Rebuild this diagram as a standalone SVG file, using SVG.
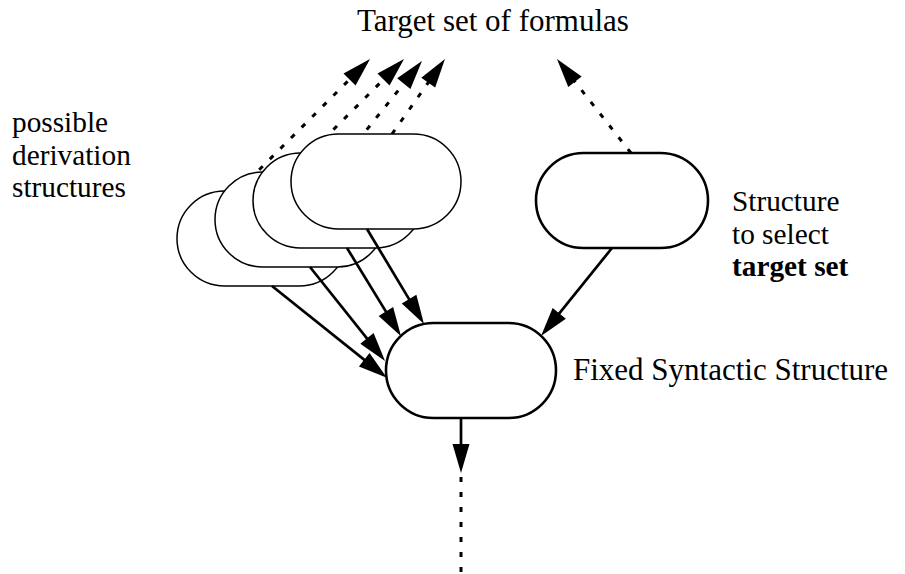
<svg xmlns="http://www.w3.org/2000/svg" width="905" height="574" viewBox="0 0 905 574">
<style>
text{font-family:"Liberation Serif","Times New Roman",serif;font-size:31px;fill:#000}
.m{font-size:29.3px}
.b{font-weight:bold}
.thin{fill:#fff;stroke:#000;stroke-width:1.5}
.thick{fill:#fff;stroke:#000;stroke-width:2.6}
.dot{fill:none;stroke:#000;stroke-width:3;stroke-dasharray:5 10}
.sol{fill:none;stroke:#000;stroke-width:2.7}
</style>
<defs>
<marker id="ah" markerUnits="userSpaceOnUse" markerWidth="30" markerHeight="20" refX="0" refY="0" orient="auto" overflow="visible">
<path d="M6,0 L-23,-8.5 L-23,8.5 Z" fill="#000"/>
</marker>
</defs>
<rect width="905" height="574" fill="#fff"/>
<g id="connectors-back">
<line class="dot" x1="238" y1="191" x2="365.8" y2="63.2" marker-end="url(#ah)"/>
<line class="dot" x1="291" y1="172" x2="399.8" y2="63.2" marker-end="url(#ah)"/>
<line class="dot" x1="348" y1="153" x2="418.2" y2="65.7" marker-end="url(#ah)"/>
<line class="dot" x1="392" y1="134" x2="441.5" y2="63.9" marker-end="url(#ah)"/>
<line class="dot" x1="631" y1="153" x2="560.7" y2="63.7" marker-end="url(#ah)"/>
</g>
<g id="deriv1"><rect class="thin" x="177" y="191" width="170" height="95" rx="47.5" ry="47.5"/></g>
<g id="deriv2"><rect class="thin" x="215" y="172" width="170" height="95" rx="47.5" ry="47.5"/></g>
<g id="deriv3"><rect class="thin" x="253" y="153" width="170" height="95" rx="47.5" ry="47.5"/></g>
<g id="deriv4"><rect class="thin" x="291" y="134" width="170" height="95" rx="47.5" ry="47.5"/></g>
<g id="select"><rect class="thick" x="536" y="153" width="172" height="95" rx="47.5" ry="47.5"/></g>
<g id="fixed"><rect class="thick" x="386" y="323" width="170" height="95" rx="47.5" ry="47.5"/></g>
<g id="connectors">
<line class="sol" x1="272" y1="286" x2="382.2" y2="374.1" marker-end="url(#ah)"/>
<line class="sol" x1="310" y1="267" x2="381.3" y2="356.3" marker-end="url(#ah)"/>
<line class="sol" x1="347" y1="248" x2="397.9" y2="331.1" marker-end="url(#ah)"/>
<line class="sol" x1="367" y1="229" x2="420.9" y2="318.9" marker-end="url(#ah)"/>
<line class="sol" x1="612" y1="248" x2="544.8" y2="331.3" marker-end="url(#ah)"/>
<line class="sol" x1="461" y1="418" x2="461" y2="467" marker-end="url(#ah)"/>
<line class="dot" x1="461" y1="477" x2="461" y2="574"/>
</g>
<g id="labels">
<text x="357" y="31">Target set of formulas</text>
<text class="m" x="12" y="132">possible</text>
<text class="m" x="12" y="164.5">derivation</text>
<text class="m" x="12" y="197">structures</text>
<text class="m" x="732" y="211">Structure</text>
<text class="m" x="732" y="243.5">to select</text>
<text class="m b" x="732" y="276">target set</text>
<text x="573" y="380">Fixed Syntactic Structure</text>
</g>
</svg>
